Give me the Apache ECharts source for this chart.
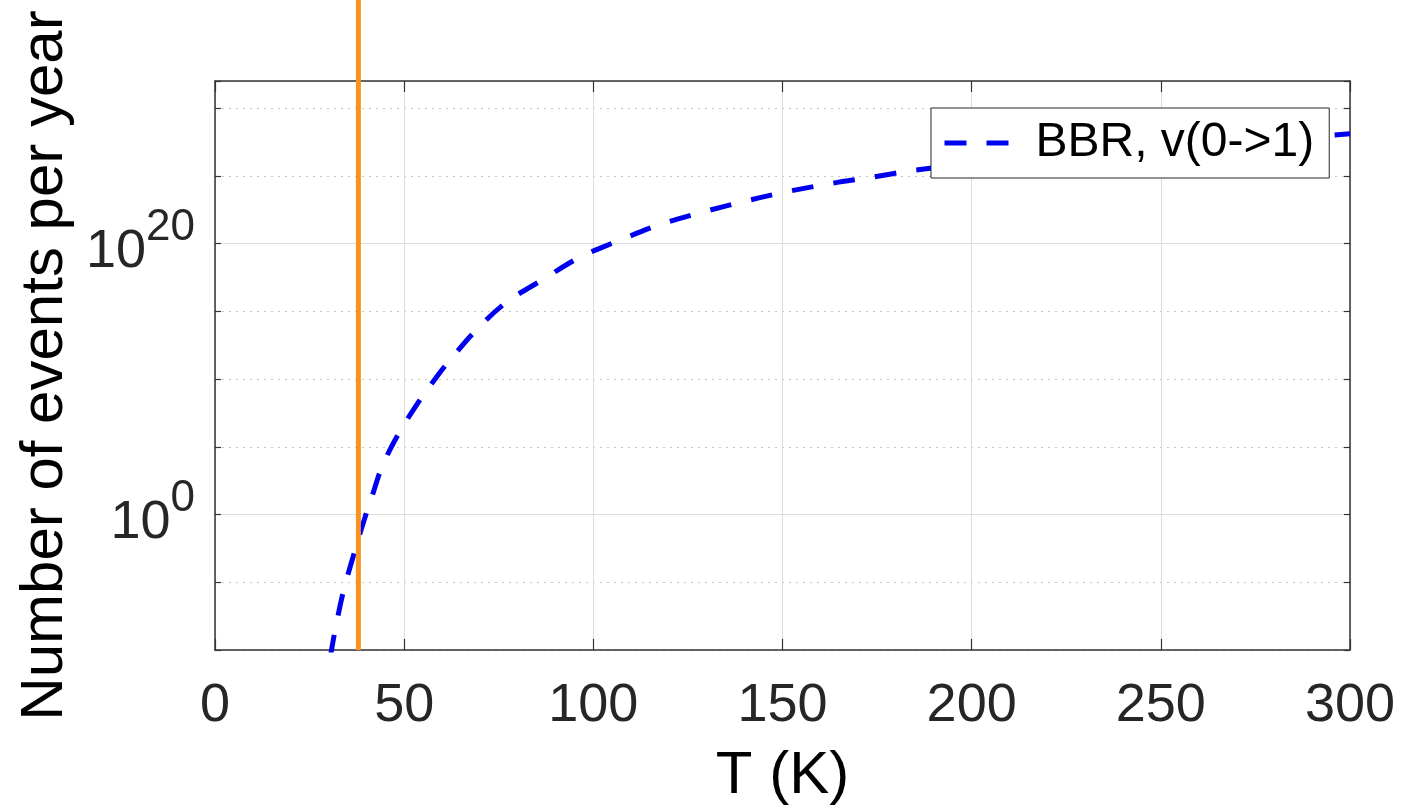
<!DOCTYPE html>
<html>
<head>
<meta charset="utf-8">
<script src="https://cdn.jsdelivr.net/npm/echarts@6/dist/echarts.min.js"></script>
<style>
html,body{margin:0;padding:0;background:#fff;}
#chart{width:1424px;height:811px;}
</style>
</head>
<body>
<div id="chart"></div>
<script>
// ---- data ----
const seriesName = 'BBR, v(0->1)';
const temperatureK = [30.5, 31.7, 33.9, 36.1, 39.2, 41.8, 44.1, 48.0, 53.3, 59.5, 63.0, 68.3, 76.7, 86.4, 96.5, 106.6, 117.6, 128.6, 139.7, 150.7, 162.1, 173.6, 184.6, 200, 225, 250, 275, 300];
const log10Events = [-10.5, -8.6, -5.7, -3.5, -0.6, 1.6, 3.5, 5.7, 8.1, 10.5, 11.7, 13.4, 15.6, 17.3, 19.0, 20.2, 21.4, 22.3, 23.1, 23.8, 24.4, 24.9, 25.4, 25.9, 26.6, 27.2, 27.6, 28.1];
const thresholdT = [37.9, 37.9];
const thresholdLog = [-10, 40];
const xTickValues = [0, 50, 100, 150, 200, 250, 300];
const yLabelExponents = [0, 20];
const yRange = [-10, 32];

const FONT = 'Liberation Sans';
const BLUE = '#0000f0';
const frame = { show: true, onZero: false, lineStyle: { color: '#333333', width: 1.5 } };

const chart = echarts.init(document.getElementById('chart'), null, { renderer: 'canvas' });
chart.setOption({
  animation: false,
  backgroundColor: '#ffffff',
  grid: { left: 215, right: 74, top: 81, bottom: 151, containLabel: false },
  legend: {
    data: [seriesName],
    left: 931, top: 108,
    orient: 'horizontal',
    itemWidth: 65, itemHeight: 14,
    padding: [11, 15, 11, 11],
    backgroundColor: '#ffffff',
    borderColor: '#262626', borderWidth: 1, borderRadius: 0,
    selectedMode: false,
    itemStyle: { color: 'rgba(0,0,0,0)', borderColor: 'rgba(0,0,0,0)', borderWidth: 0, opacity: 0 },
    lineStyle: { color: BLUE, width: 5, type: [22, 20], cap: 'butt' },
    textStyle: { fontFamily: FONT, fontSize: 48, lineHeight: 48, color: '#000000', padding: [0, 0, 0, 21] }
  },
  xAxis: [
    {
      type: 'value', min: xTickValues[0], max: xTickValues[xTickValues.length - 1], interval: 50,
      position: 'bottom',
      axisLine: frame,
      axisTick: { show: true, inside: true, length: 11, lineStyle: { color: '#333333', width: 1.2 } },
      axisLabel: { fontFamily: FONT, fontSize: 54, color: '#262626', margin: 29 },
      splitLine: { show: true, lineStyle: { color: '#dcdcdc', width: 1, type: 'solid' } },
      name: 'T (K)', nameLocation: 'middle', nameGap: 96,
      nameTextStyle: { fontFamily: FONT, fontSize: 60, color: '#000000' }
    },
    {
      type: 'value', min: xTickValues[0], max: xTickValues[xTickValues.length - 1], interval: 50,
      position: 'top',
      axisLine: frame,
      axisTick: { show: true, inside: true, length: 11, lineStyle: { color: '#333333', width: 1.2 } },
      axisLabel: { show: false },
      splitLine: { show: false }
    }
  ],
  yAxis: [
    {
      type: 'value', min: yRange[0], max: yRange[1], interval: 5,
      position: 'left',
      axisLine: frame,
      axisTick: { show: true, inside: true, length: 6, lineStyle: { color: '#333333', width: 1.2 } },
      axisLabel: {
        show: true, margin: 20, padding: [17, 0, 0, 0],
        formatter: function (v) {
          return yLabelExponents.indexOf(v) >= 0 ? '{b|10}{s|' + v + '}' : '';
        },
        rich: {
          b: { fontFamily: FONT, fontSize: 54, lineHeight: 92, color: '#262626' },
          s: { fontFamily: FONT, fontSize: 44, lineHeight: 44, color: '#262626', verticalAlign: 'top' }
        }
      },
      splitLine: { show: true, lineStyle: { color: '#c4c4c4', width: 1, type: [2, 5] } },
      name: 'Number of events per year', nameLocation: 'middle', nameGap: 128,
      nameTextStyle: { fontFamily: FONT, fontSize: 60, color: '#000000' }
    },
    {
      type: 'value', min: yRange[0], max: yRange[1], interval: 10,
      position: 'left',
      axisLine: { show: false, onZero: false },
      axisTick: { show: false },
      axisLabel: { show: false },
      splitLine: { show: true, lineStyle: { color: ['rgba(0,0,0,0)', '#dcdcdc'], width: 1, type: 'solid' } }
    },
    {
      type: 'value', min: yRange[0], max: yRange[1], interval: 5,
      position: 'right',
      axisLine: frame,
      axisTick: { show: true, inside: true, length: 6, lineStyle: { color: '#333333', width: 1.2 } },
      axisLabel: { show: false },
      splitLine: { show: false }
    }
  ],
  series: [
    {
      name: seriesName,
      type: 'line',
      xAxisIndex: 0, yAxisIndex: 0,
      data: temperatureK.map(function (t, i) { return [t, log10Events[i]]; }),
      symbol: 'none', showSymbol: false,
      smooth: 0.35,
      clip: true,
      lineStyle: { color: BLUE, width: 5, type: [22, 20], cap: 'butt' },
      itemStyle: { color: BLUE },
      z: 3
    },
    {
      name: 'threshold',
      type: 'line',
      xAxisIndex: 0, yAxisIndex: 0,
      data: thresholdT.map(function (t, i) { return [t, thresholdLog[i]]; }),
      symbol: 'none', showSymbol: false,
      clip: false,
      lineStyle: { color: '#f7931e', width: 5, type: 'solid' },
      itemStyle: { color: '#f7931e' },
      z: 4
    }
  ]
});
</script>
</body>
</html>
